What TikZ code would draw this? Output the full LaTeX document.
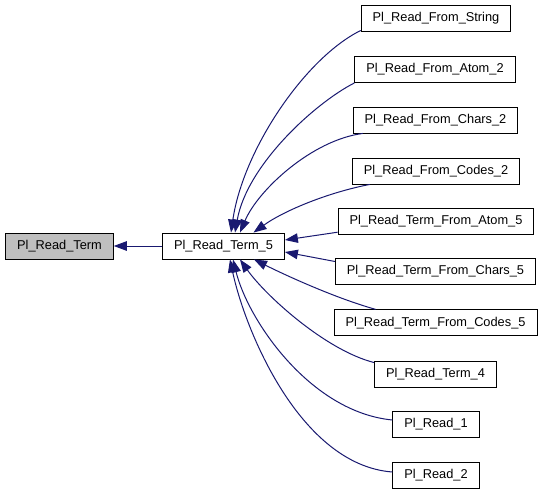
\documentclass[tikz,border=0pt]{standalone}
\usepackage{fontspec}
\setmainfont{Liberation Sans}
\usetikzlibrary{arrows.meta}
\definecolor{edgeblue}{HTML}{191970}
\definecolor{boxgray}{HTML}{BFBFBF}
\begin{document}
\begin{tikzpicture}[x=1pt,y=-1pt,
  box/.style={draw=black,line width=0.9pt,fill=white,minimum height=26pt,inner xsep=11.5pt,inner ysep=0pt,
    font=\fontsize{12.8}{15}\selectfont,anchor=center},
  sel/.style={box,fill=boxgray},
  conn/.style={draw=edgeblue,line width=1pt,-{Triangle[length=13pt,width=9.5pt]}}]
\useasboundingbox (0,0) rectangle (544,493);
\node[sel] (a) at (59.5,246) {Pl\_Read\_Term};
\node[box] (b) at (223.5,246) {Pl\_Read\_Term\_5};
\node[box] (r1) at (436,18.5) {Pl\_Read\_From\_String};
\node[box] (r2) at (435,69.5) {Pl\_Read\_From\_Atom\_2};
\node[box] (r3) at (435.5,120) {Pl\_Read\_From\_Chars\_2};
\node[box] (r4) at (436,171) {Pl\_Read\_From\_Codes\_2};
\node[box] (r5) at (436,221.2) {Pl\_Read\_Term\_From\_Atom\_5};
\node[box] (r6) at (435.5,271.5) {Pl\_Read\_Term\_From\_Chars\_5};
\node[box] (r7) at (435.5,322.8) {Pl\_Read\_Term\_From\_Codes\_5};
\node[box] (r8) at (435.5,374) {Pl\_Read\_Term\_4};
\node[box] (r9) at (436,424.5) {Pl\_Read\_1};
\node[box] (r10) at (436,475) {Pl\_Read\_2};
% edges
\draw[conn] (b.west) -- (a.east);
\draw[conn] ([yshift=1.5]r1.south west) .. controls (305,58) and (243,150) .. ([xshift=7.5]b.north);
\draw[conn] (r2.south west) .. controls (315,103) and (247,165) .. ([xshift=11.5]b.north);
\draw[conn] ([xshift=10]r3.south west) .. controls (312,140) and (258,190) .. ([xshift=16.5]b.north);
\draw[conn] ([xshift=18]r4.south west) .. controls (330,192) and (285,210) .. ([xshift=30]b.north);
\draw[conn] ([yshift=-11]r5.west) -- ([yshift=6]b.east);
\draw[conn] ([yshift=10]r6.west) -- ([yshift=-6]b.east);
\draw[conn] ([xshift=42]r7.north west) .. controls (335,298) and (285,275) .. ([xshift=30.5]b.south);
\draw[conn] ([yshift=-2]r8.north west) .. controls (325,350) and (265,295) .. ([xshift=16.5]b.south);
\draw[conn] ([yshift=4.5]r9.west) .. controls (310,412) and (248,320) .. ([xshift=9.5]b.south);
\draw[conn] ([yshift=3]r10.west) .. controls (300,465) and (245,330) .. ([xshift=6.5]b.south);
\end{tikzpicture}
\end{document}
